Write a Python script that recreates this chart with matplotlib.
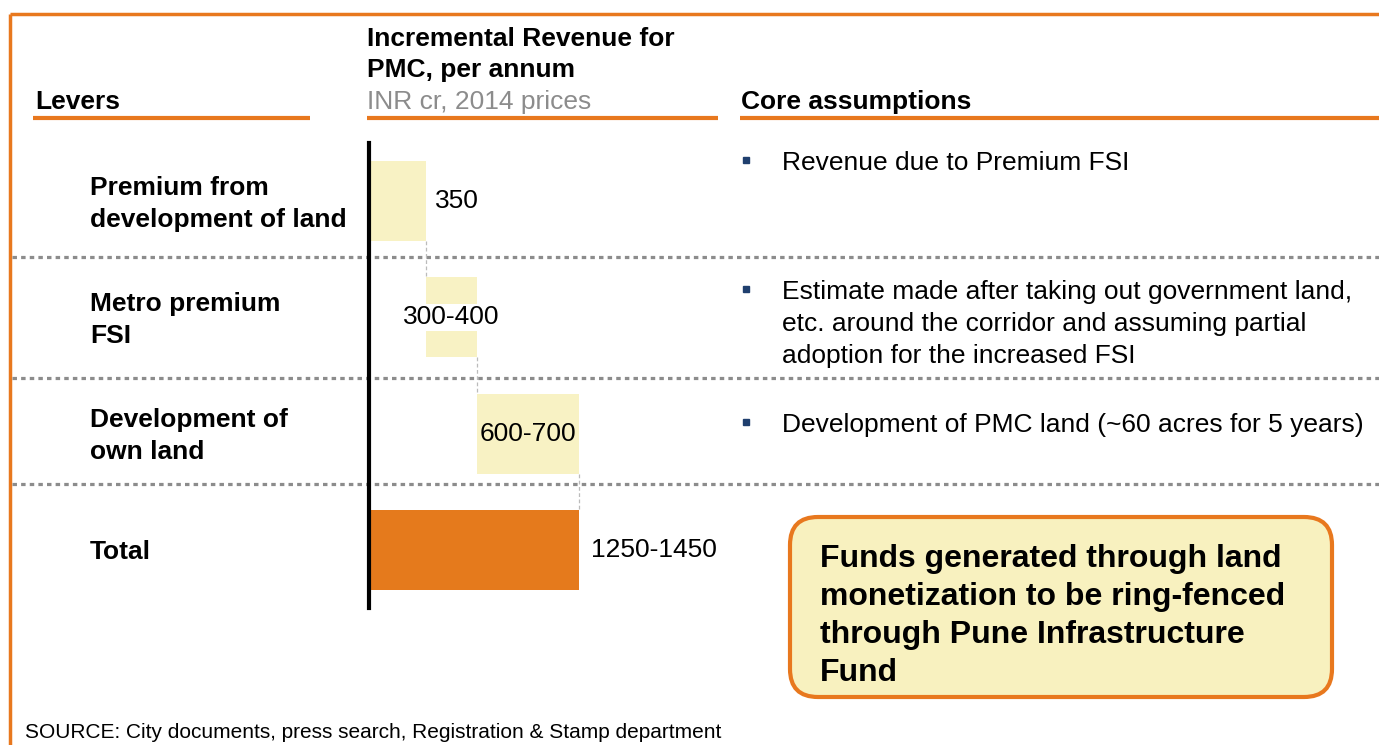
import matplotlib
matplotlib.use("Agg")
import matplotlib.pyplot as plt
from matplotlib.patches import FancyBboxPatch

plt.rcParams['font.family'] = ['Liberation Sans', 'DejaVu Sans']

# data
levers = [["Premium from", "development of land"], ["Metro premium", "FSI"],
          ["Development of", "own land"], ["Total"]]
steps = [350, 315, 625]          # bar lengths
value_labels = ["350", "300-400", "600-700", "1250-1450"]
assumptions = [["Revenue due to Premium FSI"],
               ["Estimate made after taking out government land,",
                "etc. around the corridor and assuming partial",
                "adoption for the increased FSI"],
               ["Development of PMC land (~60 acres for 5 years)"]]
callout = ["Funds generated through land", "monetization to be ring-fenced",
           "through Pune Infrastructure", "Fund"]
source = "SOURCE: City documents, press search, Registration & Stamp department"

W, H = 1379, 745
orange = "#E8781E"
pale = "#F8F2C4"
grey = "#8C8C8C"
navy = "#1F3F6E"

fig = plt.figure(figsize=(W / 100, H / 100), dpi=100)

# background axes in pixel units for all the page furniture
bg = fig.add_axes([0, 0, 1, 1])
bg.set_xlim(0, W)
bg.set_ylim(H, 0)
bg.axis("off")

# frame
bg.plot([10, W], [14, 14], color=orange, lw=2.5, solid_capstyle="butt")
bg.plot([10, 10], [14, H], color=orange, lw=2.5, solid_capstyle="butt")

# headers
bg.text(35, 109, "Levers", fontsize=19, fontweight="bold")
bg.text(367, 46, "Incremental Revenue for", fontsize=19, fontweight="bold")
bg.text(367, 77, "PMC, per annum", fontsize=19, fontweight="bold")
bg.text(367, 109, "INR cr, 2014 prices", fontsize=19, color=grey)
bg.text(741, 109, "Core assumptions", fontsize=19, fontweight="bold")
for x0, x1 in [(33, 310), (367, 718), (740, W)]:
    bg.plot([x0, x1], [118, 118], color=orange, lw=3, solid_capstyle="butt")

# dotted separators
for y in [257, 378, 484]:
    bg.plot([12, W], [y, y], color=grey, lw=2.3, linestyle=(0, (1.4, 1.3)))

# lever names
row_y = [195, 311, 427, 559]
for lines, y in zip(levers, row_y):
    for k, line in enumerate(lines):
        bg.text(90, y + 32 * k, line, fontsize=19, fontweight="bold")

# assumptions with bullets
bullet_y = [170, 299, 432]
for lines, y in zip(assumptions, bullet_y):
    bg.plot(746, y - 10, marker="s", markersize=5, color=navy)
    for k, line in enumerate(lines):
        bg.text(782, y + 32 * k, line, fontsize=19)

# callout box
box = FancyBboxPatch((790, 517), 542, 180,
                     boxstyle="round,pad=0,rounding_size=28",
                     facecolor="#F8F1BF", edgecolor=orange, lw=3)
bg.add_patch(box)
for k, line in enumerate(callout):
    bg.text(820, 567 + 38 * k, line, fontsize=23, fontweight="bold")

bg.text(25, 738, source, fontsize=15)

# waterfall axes
left, right, top, bottom = 369, 720, 143, 608
ax = fig.add_axes([left / W, 1 - bottom / H, (right - left) / W, (bottom - top) / H])
ax.patch.set_alpha(0)
px_per_unit = 57 / 350
ax.set_xlim(0, (right - left) / px_per_unit)
ax.set_ylim(3.5, -0.5)
for s in ["top", "right", "bottom"]:
    ax.spines[s].set_visible(False)
ax.spines["left"].set_linewidth(3)
ax.set_xticks([])
ax.set_yticks([])

total = sum(steps)
starts = [0, steps[0], steps[0] + steps[1]]
bh = 0.69
ax.barh(range(3), steps, left=starts, height=bh, color=pale, zorder=2)
ax.barh(3, total, height=bh, color="#E57A1C", zorder=2)

# connectors
ends = [s + v for s, v in zip(starts, steps)]
for i, e in enumerate(ends):
    ax.plot([e, e], [i + bh / 2, i + 1 - bh / 2], color="#BBBBBB", lw=0.9,
            linestyle=(0, (3, 2)), zorder=1)

# value labels
ax.text(ends[0] + 55, 0, value_labels[0], fontsize=19, va="center")
ax.text(starts[1] + steps[1] / 2, 1, value_labels[1], fontsize=19, va="center",
        ha="center", bbox=dict(facecolor="white", edgecolor="none", pad=1), zorder=3)
ax.text(starts[2] + steps[2] / 2, 2, value_labels[2], fontsize=19, va="center",
        ha="center", zorder=3)
ax.text(total + 75, 3, value_labels[3], fontsize=19, va="center")

fig.savefig("out.png", dpi=100)
